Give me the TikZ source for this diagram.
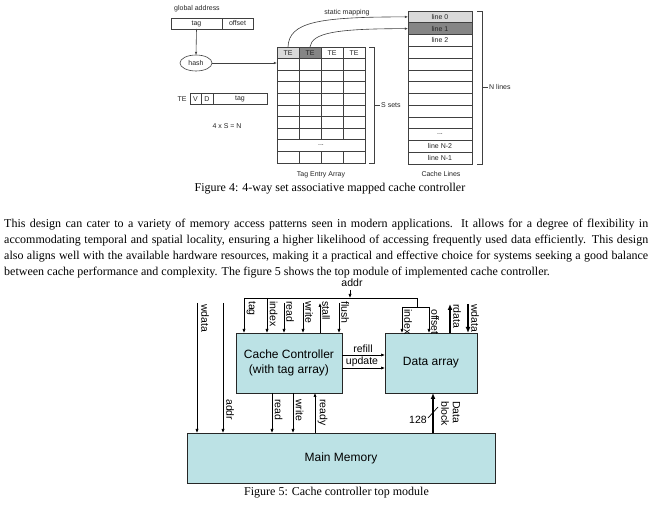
\documentclass[tikz,border=0pt]{standalone}
\usepackage{fontspec}
\setmainfont{Liberation Serif}
\newfontfamily\arial{Liberation Sans}
\usetikzlibrary{shapes.geometric,arrows.meta}
\definecolor{boxcyan}{HTML}{BCE2E5}
\definecolor{lgray}{HTML}{D9D9D9}
\definecolor{dgray}{HTML}{858585}
\definecolor{lcol}{HTML}{404040}
\tikzset{
  f4/.style={font=\arial\fontsize{7}{8}\selectfont, text=black!85, inner sep=0pt},
  f4cell/.style={f4, draw=lcol, line width=0.6pt, outer sep=0pt},
  f4line/.style={draw=lcol, line width=0.6pt},
  f4arr/.style={f4line, -{Latex[length=3.2pt,width=2.6pt]}},
  f5box/.style={draw=black!85, line width=0.8pt, fill=boxcyan, inner sep=0pt, outer sep=0pt, font=\arial\fontsize{12}{14.5}\selectfont, align=center},
  f5lab/.style={font=\arial\fontsize{10.5}{11.5}\selectfont, rotate=-90, anchor=south west, inner sep=0pt},
  f5hlab/.style={font=\arial\fontsize{10.5}{11.5}\selectfont, inner sep=0pt},
  sig/.style={draw=black, line width=0.7pt, -{Latex[length=4pt,width=3.2pt]}},
  sigline/.style={draw=black, line width=0.7pt},
  bus/.style={draw=black, line width=1.8pt, -{Latex[length=6pt,width=5pt]}},
  body/.style={font=\fontsize{12}{14}\selectfont, inner sep=0pt, anchor=base west},
  captext/.style={font=\fontsize{12}{14}\selectfont, inner sep=0pt},
}
\begin{document}
\begin{tikzpicture}[x=1pt,y=-1pt]
\useasboundingbox[fill=white] (0,0) rectangle (659,510);
% ---------------- Figure 4 ----------------
\node[f4] (gaddr) at (197,9) {global address};
\node[f4cell, minimum width=51pt, minimum height=11pt] (gtag) at (196.5,23.5) {tag};
\node[f4cell, minimum width=31pt, minimum height=11pt] (goff) at (237.5,23.5) {offset};
\node[f4cell, ellipse, minimum width=32pt, minimum height=16pt] (hash) at (196,63) {hash};
\draw[f4arr] (gtag.south) -- (hash.north);
\coordinate (arrin) at (277,63);
\draw[f4arr] (hash.east) -- (arrin);
% TE format
\node[f4] (telab) at (182,99) {TE};
\node[f4cell, minimum width=11pt, minimum height=11pt] (tev) at (195.5,99) {V};
\node[f4cell, minimum width=12pt, minimum height=11pt] (ted) at (207,99) {D};
\node[f4cell, minimum width=54pt, minimum height=11pt] (tetag) at (240,99) {tag};
\node[f4] (eqn) at (227,126) {4 x S = N};
% tag entry array
\foreach \i/\c in {1/lgray,2/dgray,3/white,4/white}
  \node[f4cell, fill=\c, minimum width=22pt, minimum height=11.6pt] (te\i) at ({277+22*(\i-0.5)},52.8) {TE};
\draw[f4line] (277,58.6) rectangle (365,163);
\foreach \y in {70.2,81.8,93.4,105,116.6,128.2,139.8,151.4}
  \draw[f4line] (277,\y) -- (365,\y);
\foreach \x in {299,321,343} {
  \draw[f4line] (\x,58.6) -- (\x,139.8);
  \draw[f4line] (\x,151.4) -- (\x,163);
}
\node[f4] (tdots) at (321,145.6) {...};
\node[f4] (tealab) at (321,175) {Tag Entry Array};
% S sets bracket
\draw[f4line] (369,47) -- (374,47) -- (374,163) -- (369,163);
\draw[f4line] (374,105) -- (380,105);
\node[f4, anchor=west] (ssets) at (381,105) {S sets};
% cache lines
\node[f4cell, fill=lgray, minimum width=64pt, minimum height=11.77pt] (line0) at (440,16.9) {line 0};
\node[f4cell, fill=dgray, minimum width=64pt, minimum height=11.77pt] (line1) at (440,28.65) {line 1};
\node[f4cell, minimum width=64pt, minimum height=11.77pt] (line2) at (440,40.4) {line 2};
\draw[f4line] (408,46.31) rectangle (472,128.7);
\foreach \y in {58.08,69.85,81.62,93.39,105.16,116.93}
  \draw[f4line] (408,\y) -- (472,\y);
\node[f4cell, minimum width=64pt, minimum height=11.77pt] (ldots) at (440,134.6) {...};
\node[f4cell, minimum width=64pt, minimum height=11.77pt] (lineN2) at (440,146.4) {line N-2};
\node[f4cell, minimum width=64pt, minimum height=11.77pt] (lineN1) at (440,158.1) {line N-1};
\node[f4] (cllab) at (441,174) {Cache Lines};
% N lines bracket
\draw[f4line] (477,11) -- (482,11) -- (482,164) -- (477,164);
\draw[f4line] (482,87) -- (488,87);
\node[f4, anchor=west] (nlines) at (489,87) {N lines};
% static mapping
\node[f4] (smap) at (347,13) {static mapping};
\draw[f4arr] (te1.north) .. controls (289,22) and (318,16.9) .. (line0.west);
\draw[f4arr] (te2.north) .. controls (312,33) and (335,28.65) .. (line1.west);
% caption
\node[captext] (cap4) at (330,189) {Figure 4: 4-way set associative mapped cache controller};
% ---------------- Paragraph ----------------
\node[body] (p1) at (4,228) {\makebox[644pt][s]{This design can cater to a variety of memory access patterns seen in modern applications. It allows for a degree of flexibility in}};
\node[body] (p2) at (4,244) {\makebox[644pt][s]{accommodating temporal and spatial locality, ensuring a higher likelihood of accessing frequently used data efficiently. This design}};
\node[body] (p3) at (4,260) {\makebox[644pt][s]{also aligns well with the available hardware resources, making it a practical and effective choice for systems seeking a good balance}};
\node[body] (p4) at (4,276) {between cache performance and complexity. The figure 5 shows the top module of implemented cache controller.};
% ---------------- Figure 5 ----------------
\node[f5box, minimum width=106pt, minimum height=60pt] (cc) at (289,363) {Cache Controller\\(with tag array)};
\node[f5box, minimum width=92pt, minimum height=60pt] (da) at (431,363) {Data array};
\node[f5box, minimum width=308pt, minimum height=50pt] (mm) at (341,458) {Main Memory};
% addr bus
\node[f5hlab] (addrlab) at (352,283) {addr};
\coordinate (addrtop) at (350,290);
\coordinate (busA) at (350,298);
\coordinate (busL) at (244,298);
\coordinate (busR) at (417,298);
\coordinate (busD) at (417,307);
\coordinate (brL) at (402,307);
\coordinate (brR) at (429,307);
\draw[sig] (addrtop) -- (busA);
\draw[sigline] (busL) -- (busR) -- (busD);
\draw[sigline] (brL) -- (brR);
\draw[sig] (busL) -- (busL |- cc.north);
\coordinate (idxtop) at (267,298);
\draw[sig] (idxtop) -- (idxtop |- cc.north);
\draw[sig] (brL) -- (brL |- da.north);
\draw[sig] (brR) -- (brR |- da.north);
\coordinate (rdtop) at (284,303);
\coordinate (wrtop) at (303,303);
\coordinate (sttop) at (320,303);
\coordinate (fltop) at (339,303);
\draw[sig] (rdtop) -- (rdtop |- cc.north);
\draw[sig] (wrtop) -- (wrtop |- cc.north);
\draw[sig] (sttop |- cc.north) -- (sttop);
\draw[sig] (fltop) -- (fltop |- cc.north);
\node[f5lab] (ltag) at (246.5,301) {tag};
\node[f5lab] (lidx) at (269.5,301) {index};
\node[f5lab] (lrd) at (286,301) {read};
\node[f5lab] (lwr) at (305,301) {write};
\node[f5lab] (lst) at (322,301) {stall};
\node[f5lab] (lfl) at (341,301) {flush};
\node[f5lab] (didx) at (404,309) {index};
\node[f5lab] (doff) at (431,309) {offset};
% rdata / wdata
\coordinate (rdt) at (450,304);
\coordinate (wdt) at (468,304);
\draw[bus] (rdt |- da.north) -- (rdt);
\draw[bus] (wdt) -- (wdt |- da.north);
\node[f5lab] (lrdata) at (453,304) {rdata};
\node[f5lab] (lwdata) at (471,304) {wdata};
% left lines to memory
\coordinate (wdL) at (197,303);
\coordinate (adL) at (223,303);
\draw[sig] (wdL) -- (wdL |- mm.north);
\draw[sig] (adL) -- (adL |- mm.north);
\node[f5lab] (lwdL) at (201,304) {wdata};
\node[f5lab] (ladL) at (226,399) {addr};
% controller to memory
\coordinate (rdb) at (272,393);
\coordinate (wrb) at (293,393);
\coordinate (rdy) at (315,433);
\draw[sig] (rdb) -- (rdb |- mm.north);
\draw[sig] (wrb) -- (wrb |- mm.north);
\draw[sig] (rdy) -- (rdy |- cc.south);
\node[f5lab] (lrdb) at (274.5,399) {read};
\node[f5lab] (lwrb) at (295.5,399) {write};
\node[f5lab] (lrdy) at (317.5,399) {ready};
% refill / update
\coordinate (rf) at (342,355);
\coordinate (up) at (342,368);
\draw[sig] (rf) -- (rf -| da.west);
\draw[sig] (up) -- (up -| da.west);
\node[f5hlab, anchor=south] (lrf) at (363,353) {refill};
\node[f5hlab, anchor=south] (lup) at (362,366.5) {update};
% data block
\coordinate (db) at (433,433);
\draw[bus] (db) -- (db |- da.south);
\coordinate (slA) at (428,418);
\coordinate (slB) at (438,407);
\draw[sigline] (slA) -- (slB);
\node[f5hlab] (l128) at (418,420) {128};
\node[f5lab, align=left] (ldb) at (441,401) {Data\\block};
\node[captext] (cap5) at (336.5,493) {Figure 5: Cache controller top module};
\end{tikzpicture}
\end{document}
